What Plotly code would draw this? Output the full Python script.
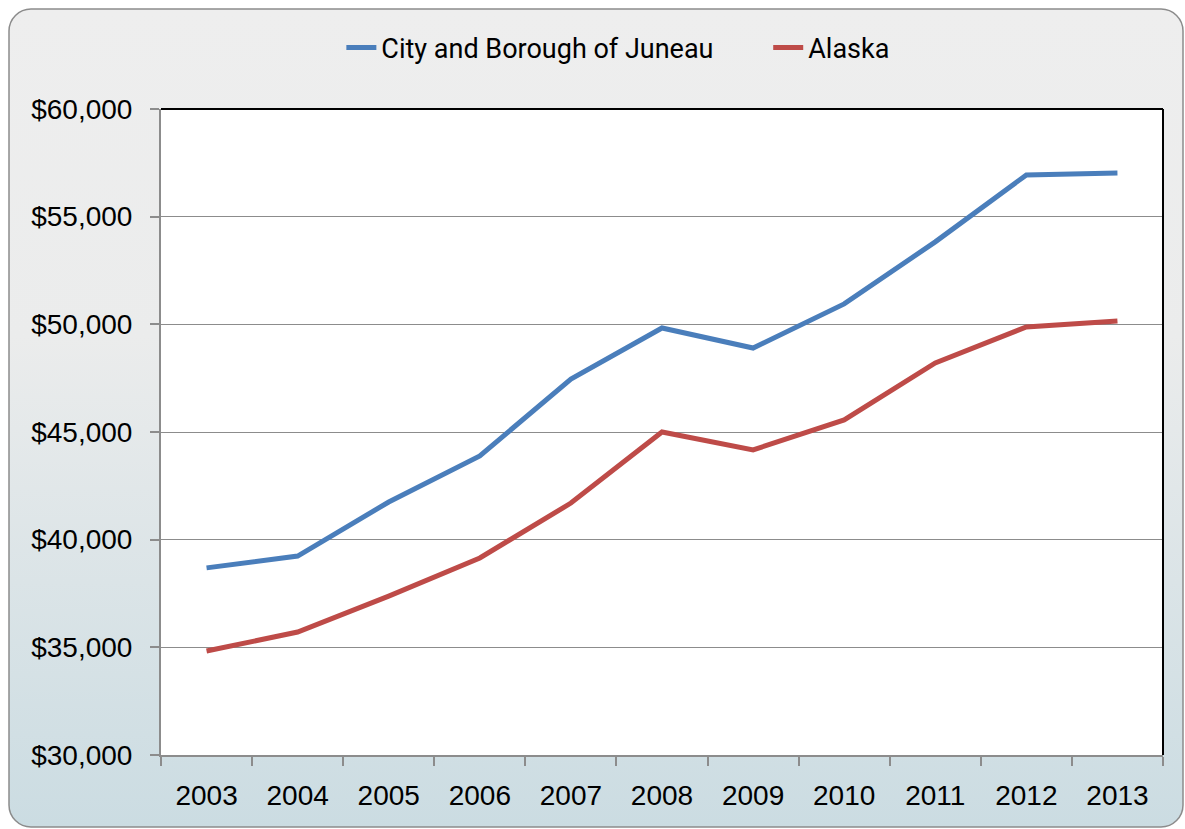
import base64
import plotly.graph_objects as go

years = ["2003", "2004", "2005", "2006", "2007", "2008", "2009", "2010", "2011", "2012", "2013"]
juneau = [38690, 39240, 41750, 43890, 47460, 49830, 48900, 50950, 53830, 56940, 57030]
alaska = [34830, 35710, 37380, 39150, 41700, 45000, 44170, 45560, 48210, 49880, 50160]
y_ticks = [30000, 35000, 40000, 45000, 50000, 55000, 60000]
y_labels = [f"${v:,}" for v in y_ticks]

W, H = 1185, 829
L, R, T, B = 161, 22, 109, 74

# rounded frame with gray-to-blue gradient
svg = f'''<svg xmlns="http://www.w3.org/2000/svg" width="{W}" height="{H}">
<defs><linearGradient id="g" x1="0" y1="0" x2="0" y2="1">
<stop offset="0" stop-color="#eeeeee"/><stop offset="0.4" stop-color="#ebecec"/>
<stop offset="1" stop-color="#cbdce2"/></linearGradient></defs>
<rect x="9" y="9" width="{W - 11}" height="{H - 11}" rx="22" ry="22" fill="url(#g)" stroke="#8c8c8c" stroke-width="1.5"/>
</svg>'''
src = "data:image/svg+xml;base64," + base64.b64encode(svg.encode()).decode()

pw, ph = W - L - R, H - T - B

fig = go.Figure()
fig.add_scatter(x=years, y=juneau, mode="lines", name="City and Borough of Juneau",
                line=dict(color="#4a7ebb", width=5), legend="legend")
fig.add_scatter(x=years, y=alaska, mode="lines", name="Alaska",
                line=dict(color="#be4b48", width=5), legend="legend2")

fig.add_layout_image(source=src, xref="paper", yref="paper",
                     x=-L / pw, y=1 + T / ph, sizex=W / pw, sizey=H / ph,
                     xanchor="left", yanchor="top", sizing="stretch", layer="below")

fig.add_shape(type="rect", xref="x domain", yref="y domain", x0=0, x1=1, y0=0, y1=1,
              fillcolor="white", line_width=0, layer="below")
fig.add_shape(type="line", xref="x domain", yref="y domain", x0=0, x1=1, y0=1, y1=1,
              line=dict(color="black", width=2))
fig.add_shape(type="line", xref="x domain", yref="y domain", x0=1, x1=1, y0=0, y1=1,
              line=dict(color="black", width=2))

legend_style = dict(orientation="h", xanchor="left", y=1 + 61 / ph, yanchor="middle",
                    font=dict(family="Roboto, sans-serif", size=27),
                    bgcolor="rgba(0,0,0,0)")

fig.update_layout(
    width=W, height=H,
    margin=dict(l=L, r=R, t=T, b=B),
    paper_bgcolor="white",
    plot_bgcolor="rgba(0,0,0,0)",
    font=dict(family="Liberation Sans, Arial, sans-serif", size=28, color="black"),
    legend=dict(x=0.18, **legend_style),
    legend2=dict(x=0.606, **legend_style),
    showlegend=True,
)

fig.update_xaxes(type="category", tickson="boundaries", ticks="outside", ticklen=9,
                 tickwidth=2, tickcolor="#8c8c8c", showline=True, linecolor="#8c8c8c",
                 linewidth=2, showgrid=False, range=[-0.5, 10.5], ticklabelstandoff=14)
fig.update_yaxes(range=[30000, 60000], tickvals=y_ticks, ticktext=y_labels,
                 ticks="outside", ticklen=9, tickwidth=2, tickcolor="#8c8c8c",
                 showline=True, linecolor="#8c8c8c", linewidth=2, ticklabelstandoff=12,
                 showgrid=True, gridcolor="#8c8c8c", gridwidth=1, zeroline=False)

fig.write_html("out.html", config={"displayModeBar": False},
               post_script="document.body.style.margin='0';")
